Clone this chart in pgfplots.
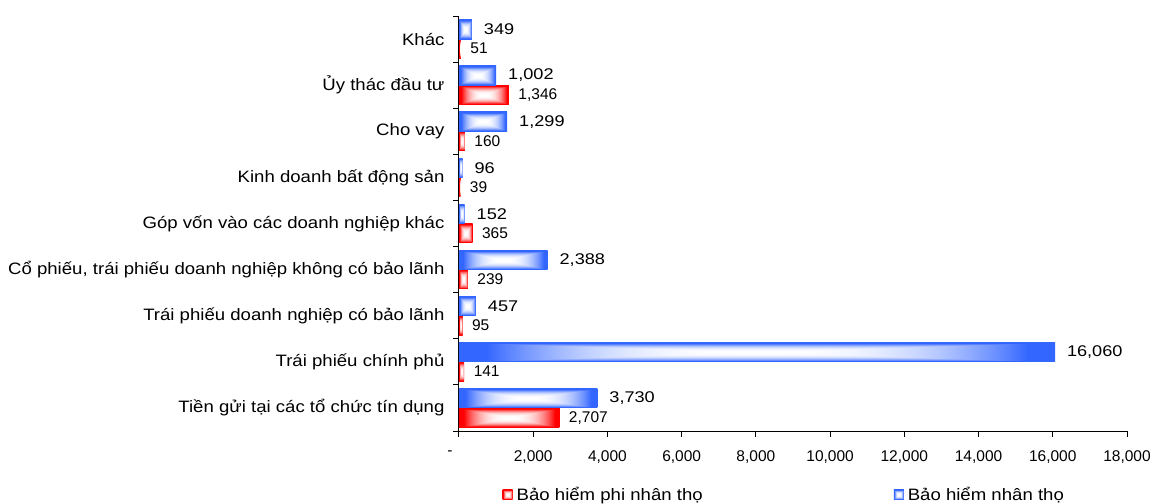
\documentclass[border=0pt]{standalone}
\usepackage{fontspec}
\setmainfont{Liberation Sans}
\usepackage{graphicx}
\usepackage{pgfplots}
\pgfplotsset{compat=1.18}

% Rectangular "from centre" glow: white in the middle, full colour at the edges
% (edge colours: blue 51,102,255 and red 255,0,0)
\pgfdeclarefunctionalshading{blueglow}{\pgfpoint{-50bp}{-50bp}}{\pgfpoint{50bp}{50bp}}{}{
  abs exch abs 2 copy lt {exch} if pop
  25 div 1.1 mul dup 1 gt {pop 1} if 2.5 exp
  dup 0.8 mul neg 1 add exch 0.6 mul neg 1 add 1
}
\pgfdeclarefunctionalshading{redglow}{\pgfpoint{-50bp}{-50bp}}{\pgfpoint{50bp}{50bp}}{}{
  abs exch abs 2 copy lt {exch} if pop
  25 div 1.1 mul dup 1 gt {pop 1} if 2.5 exp
  neg 1 add 1 exch dup
}

\newcommand\lab[1]{\scalebox{1.127}[1]{#1}}

\pgfplotsset{
  nonlifebar/.style={draw=none, shade, shading=redglow, bar shift=-0.21,
    nodes near coords={\pgfmathprintnumber{\pgfplotspointmeta}},
    every node near coord/.append style={anchor=west, xshift=6pt, text=black,
      font=\fontsize{15.5}{18}\selectfont}},
  lifebar/.style={draw=none, shade, shading=blueglow, bar shift=0.21,
    nodes near coords={\scalebox{1.17}[1]{\pgfmathprintnumber{\pgfplotspointmeta}}},
    every node near coord/.append style={anchor=west, xshift=8.5pt, text=black,
      font=\fontsize{15.5}{18}\selectfont}},
}

\begin{document}
\begin{tikzpicture}
\path[use as bounding box] (-459pt,-72pt) rectangle (694pt,431pt);
\begin{axis}[
  at={(0,0)}, anchor=south west,
  scale only axis, width=668pt, height=415pt,
  xbar, bar width=0.42,
  xmin=0, xmax=18000, ymin=-0.5, ymax=8.5,
  axis x line*=bottom, axis y line*=left,
  axis line style={black, line width=1pt, -},
  scaled x ticks=false,
  xtick={0,2000,...,18000},
  xticklabels={-\hspace*{18pt},{2,000},{4,000},{6,000},{8,000},{10,000},{12,000},{14,000},{16,000},{18,000}},
  ytick={0,...,8},
  yticklabels={
    \lab{Tiền gửi tại các tổ chức tín dụng},
    \lab{Trái phiếu chính phủ},
    \lab{Trái phiếu doanh nghiệp có bảo lãnh},
    \lab{Cổ phiếu, trái phiếu doanh nghiệp không có bảo lãnh},
    \lab{Góp vốn vào các doanh nghiệp khác},
    \lab{Kinh doanh bất động sản},
    \lab{Cho vay},
    \lab{Ủy thác đầu tư},
    \lab{Khác}},
  minor ytick={-0.5,0.5,...,8.5},
  tick align=outside, major tick length=6pt, minor tick length=6pt,
  every major y tick/.style={draw=none},
  tick style={black, line width=1pt},
  xticklabel style={font=\fontsize{15.5}{18}\selectfont, yshift=-10pt},
  yticklabel style={font=\fontsize{16.5}{19}\selectfont, xshift=-5pt},
  point meta=x,
  /pgf/number format/.cd, fixed, precision=0, 1000 sep={,}, assume math mode=true,
  /pgfplots/.cd,
  nodes near coords align=horizontal,
  legend style={at={(0.4885,-0.125)}, anchor=north, draw=none, fill=none,
    legend columns=2, font=\fontsize{16.5}{19}\selectfont,
    /tikz/every even column/.append style={column sep=187pt}},
  legend image code/.code={\path[#1, draw=none] (0pt,-5pt) rectangle (10pt,5pt);},
  legend style={/tikz/every node/.append style={inner xsep=4pt}},
]
% one bar per plot, so each bar gets its own glow
\addplot[nonlifebar] coordinates {(2707,0)};
\addlegendentry{\lab{Bảo hiểm phi nhân thọ}}
\addplot[lifebar] coordinates {(3730,0)};
\addlegendentry{\lab{Bảo hiểm nhân thọ}}
\addplot[nonlifebar, forget plot] coordinates {(141,1)};
\addplot[lifebar, forget plot] coordinates {(16060,1)};
\addplot[nonlifebar, forget plot] coordinates {(95,2)};
\addplot[lifebar, forget plot] coordinates {(457,2)};
\addplot[nonlifebar, forget plot] coordinates {(239,3)};
\addplot[lifebar, forget plot] coordinates {(2388,3)};
\addplot[nonlifebar, forget plot] coordinates {(365,4)};
\addplot[lifebar, forget plot] coordinates {(152,4)};
\addplot[nonlifebar, forget plot] coordinates {(39,5)};
\addplot[lifebar, forget plot] coordinates {(96,5)};
\addplot[nonlifebar, forget plot] coordinates {(160,6)};
\addplot[lifebar, forget plot] coordinates {(1299,6)};
\addplot[nonlifebar, forget plot] coordinates {(1346,7)};
\addplot[lifebar, forget plot] coordinates {(1002,7)};
\addplot[nonlifebar, forget plot] coordinates {(51,8)};
\addplot[lifebar, forget plot] coordinates {(349,8)};
\end{axis}
\end{tikzpicture}
\end{document}
